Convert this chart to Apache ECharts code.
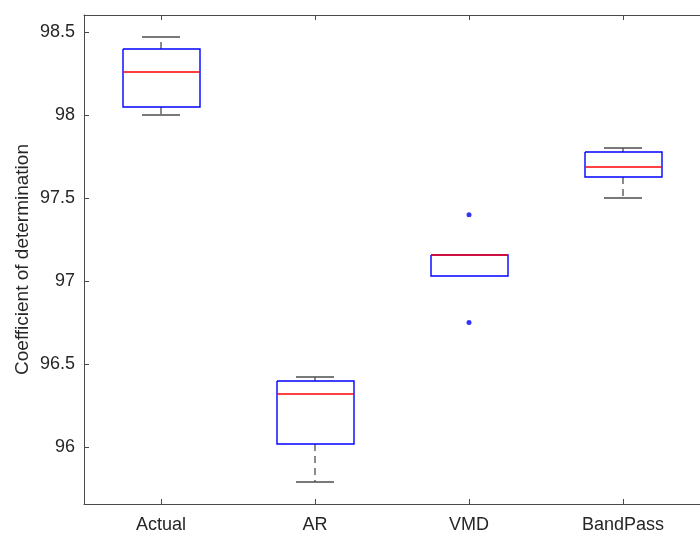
<!DOCTYPE html>
<html>
<head>
<meta charset="utf-8">
<script src="https://cdn.jsdelivr.net/npm/echarts@6/dist/echarts.min.js"></script>
<style>
  html, body { margin: 0; padding: 0; background: #fff; }
  #chart { width: 700px; height: 536px; }
</style>
</head>
<body>
<div id="chart"></div>
<script>
// Methods compared
const categories = ['Actual', 'AR', 'VMD', 'BandPass'];

// Box statistics per method (coefficient of determination, %)
const lowerWhisker = [98.00, 95.79, 97.03, 97.50];
const q1           = [98.05, 96.02, 97.03, 97.625];
const median       = [98.26, 96.32, 97.155, 97.685];
const q3           = [98.40, 96.40, 97.16, 97.78];
const upperWhisker = [98.47, 96.42, 97.16, 97.80];

// Outliers: [method index, value]
const outliers = [[2, 97.40], [2, 96.75]];

// Y axis tick labels
const yTicks = [96, 96.5, 97, 97.5, 98, 98.5];

const boxData = categories.map((c, i) => [i, lowerWhisker[i], q1[i], median[i], q3[i], upperWhisker[i]]);

const axisColor = '#4a4a4a';
const textColor = '#262626';
const fontFamily = '"Liberation Sans", Arial, Helvetica, sans-serif';

function whiskerStyle() { return { stroke: '#4d4d4d', fill: null, lineWidth: 1.3, lineDash: [7, 5] }; }
function capStyle() { return { stroke: '#4d4d4d', fill: null, lineWidth: 1.3 }; }

// MATLAB-style box: dashed whiskers, short caps, blue box, red median
function renderBox(params, api) {
  const idx = api.value(0);
  const band = api.size([1, 0])[0];
  const boxW = Math.round(band * 0.5);
  const capW = band * 0.25;
  const cx = Math.round(api.coord([idx, api.value(3)])[0]);
  const y = k => Math.round(api.coord([idx, api.value(k)])[1]);
  const yLow = y(1), yQ1 = y(2), yMed = y(3), yQ3 = y(4), yHigh = y(5);
  const bx0 = Math.round(cx - boxW / 2);
  const bx1 = bx0 + boxW;
  const c0 = Math.round(cx - capW / 2), c1 = Math.round(cx + capW / 2);
  const children = [];
  // whisker + cap only where the whisker has some length beyond the box
  if (yHigh < yQ3) {
    children.push({ type: 'line', z2: 1, shape: { x1: cx, y1: yQ3, x2: cx, y2: yHigh }, style: whiskerStyle() });
    children.push({ type: 'line', z2: 2, shape: { x1: c0, y1: yHigh, x2: c1, y2: yHigh }, style: capStyle() });
  }
  if (yLow > yQ1) {
    children.push({ type: 'line', z2: 1, shape: { x1: cx, y1: yQ1, x2: cx, y2: yLow }, style: whiskerStyle() });
    children.push({ type: 'line', z2: 2, shape: { x1: c0, y1: yLow, x2: c1, y2: yLow }, style: capStyle() });
  }
  children.push({ type: 'polyline', z2: 3, shape: { points: [[bx0, yQ3], [bx1, yQ3], [bx1, yQ1], [bx0, yQ1], [bx0, yQ3]] },
    style: { stroke: '#0000ff', fill: null, lineWidth: 1.4 } });
  children.push({ type: 'line', z2: 4, shape: { x1: bx0, y1: yMed, x2: bx1, y2: yMed },
    style: { stroke: '#ff0000', fill: null, lineWidth: 1.4 } });
  return { type: 'group', children };
}

const chart = echarts.init(document.getElementById('chart'), null, { renderer: 'canvas' });
chart.setOption({
  backgroundColor: '#ffffff',
  animation: false,
  grid: { left: 84, top: 15, width: 626, bottom: 32, containLabel: false },
  xAxis: [
    {
      type: 'category',
      data: categories,
      position: 'bottom',
      boundaryGap: true,
      axisLine: { show: true, lineStyle: { color: axisColor, width: 1 } },
      axisTick: { show: true, inside: true, alignWithLabel: true, length: 5, lineStyle: { color: axisColor } },
      axisLabel: { color: textColor, fontSize: 18, fontFamily, margin: 12 },
      splitLine: { show: false }
    },
    {
      type: 'category',
      data: categories,
      position: 'top',
      boundaryGap: true,
      axisLine: { show: true, lineStyle: { color: axisColor, width: 1 } },
      axisTick: { show: true, inside: true, alignWithLabel: true, length: 5, lineStyle: { color: axisColor } },
      axisLabel: { show: false },
      splitLine: { show: false }
    }
  ],
  yAxis: {
    type: 'value',
    min: 95.656,
    max: 98.604,
    name: 'Coefficient of determination',
    nameLocation: 'middle',
    nameGap: 52,
    nameMoveOverlap: false,
    nameTextStyle: { color: textColor, fontSize: 19, fontFamily },
    axisLine: { show: true, lineStyle: { color: axisColor, width: 1 } },
    axisTick: { show: true, inside: true, length: 5, lineStyle: { color: axisColor }, customValues: yTicks },
    axisLabel: { color: textColor, fontSize: 18, fontFamily, margin: 9, customValues: yTicks },
    splitLine: { show: false }
  },
  series: [
    {
      type: 'custom',
      name: 'box',
      renderItem: renderBox,
      data: boxData,
      encode: { x: 0, y: [1, 2, 3, 4, 5] },
      z: 2
    },
    {
      type: 'scatter',
      name: 'outliers',
      data: outliers,
      symbol: 'circle',
      symbolSize: 5,
      itemStyle: { color: '#0000ff' },
      z: 3
    }
  ]
});
</script>
</body>
</html>
